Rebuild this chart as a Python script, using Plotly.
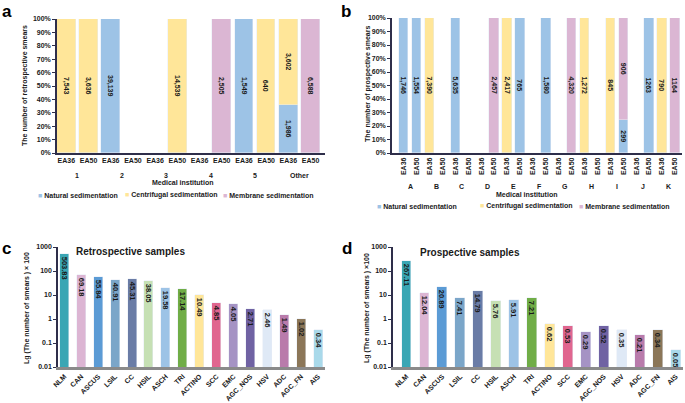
import plotly.graph_objects as go

# ---- panel a / b data (counts per slide position) ----
sub_labels = ["EA36", "EA50"]
groups_a = ["1", "2", "3", "4", "5", "Other"]
a_natural = [None, None, 39139, None, None, None, None, None, 1549, None, 1986, None]
a_centrifugal = [7543, 3636, None, None, None, 14539, None, None, None, 640, 3602, None]
a_membrane = [None, None, None, None, None, None, None, 2505, None, None, None, 6588]

groups_b = ["A", "B", "C", "D", "E", "F", "G", "H", "I", "J", "K"]
b_natural = [1746, 1554, None, None, 5635, None, None, None, None, 765, None,
             1580, None, None, None, None, None, 299, None, 1263, None, None]
b_centrifugal = [None, None, 7390, None, None, None, None, None, 2417, None, None,
                 None, None, None, 1272, None, 845, None, None, None, 790, None]
b_membrane = [None, None, None, None, None, None, None, 2457, None, None, None,
              None, None, 4320, None, None, None, 906, None, None, None, 1164]
b_no_comma = {19, 21}  # labels printed without thousands separator

# ---- panel c / d data ----
cats = ["NLM", "CAN", "ASCUS", "LSIL", "CC", "HSIL", "ASCH", "TRI", "ACTINO", "SCC",
        "EMC", "AGC_NOS", "HSV", "ADC", "AGC_FN", "AIS"]
retro = [503.83, 69.18, 55.84, 40.91, 45.31, 38.05, 19.58, 17.14, 10.49, 4.85,
         4.05, 2.71, 2.46, 1.49, 1.02, 0.34]
prosp = [267.11, 12.04, 20.89, 7.41, 14.79, 5.76, 5.91, 7.21, 0.62, 0.53,
         0.29, 0.52, 0.35, 0.21, 0.34, 0.05]
cat_colors = ["#3aa6b4", "#dcb5d3", "#5b9bd5", "#7ba6c9", "#6a7ca6", "#c6e0b4",
              "#9dc3e6", "#70ad47", "#ffe699", "#e0668f", "#a593c4", "#7062a3",
              "#dfe9f6", "#b97bab", "#8b7658", "#a9d9ea"]

series_names = ["Natural sedimentation", "Centrifugal sedimentation", "Membrane sedimentation"]
series_colors = ["#9dc3e6", "#ffe699", "#dbb6d3"]

FONT = "Liberation Sans, Arial, sans-serif"
INK = "#1a1a1a"
AXIS = "#2e2e4a"


def pct(series_list):
    totals = [sum(v or 0 for v in col) for col in zip(*series_list)]
    return [[(v / t * 100 if v else None) for v, t in zip(s, totals)] for s in series_list]


def label(v, i, plain=()):
    if v is None:
        return ""
    return str(v) if i in plain else f"{v:,}"


fig = go.Figure()

# panel a
a_series = [a_natural, a_centrifugal, a_membrane]
for s, p, name, col in zip(a_series, pct(a_series), series_names, series_colors):
    fig.add_trace(go.Bar(
        x=list(range(len(s))), y=p, name=name, marker_color=col, width=0.84,
        text=[label(v, i) for i, v in enumerate(s)], textposition="inside",
        textangle=90, insidetextanchor="middle", constraintext="none",
        textfont=dict(size=7, color=INK, family=FONT, weight="bold"),
        xaxis="x", yaxis="y", showlegend=False, hoverinfo="skip"))

# panel b
b_series = [b_natural, b_centrifugal, b_membrane]
for s, p, name, col in zip(b_series, pct(b_series), series_names, series_colors):
    fig.add_trace(go.Bar(
        x=list(range(len(s))), y=p, name=name, marker_color=col, width=0.73,
        text=[label(v, i, b_no_comma) for i, v in enumerate(s)], textposition="inside",
        textangle=90, insidetextanchor="middle", constraintext="none",
        textfont=dict(size=7, color=INK, family=FONT, weight="bold"),
        xaxis="x2", yaxis="y2", showlegend=False, hoverinfo="skip"))

# panels c, d
for vals, xa, ya in [(retro, "x3", "y3"), (prosp, "x4", "y4")]:
    fig.add_trace(go.Bar(
        x=cats, y=vals, marker_color=cat_colors, width=0.53, showlegend=False,
        text=[f"{v:.2f}" for v in vals], textposition="inside", textangle=90,
        insidetextanchor="end", constraintext="none", cliponaxis=False,
        textfont=dict(size=7.5, color=INK, family=FONT, weight="bold"),
        xaxis=xa, yaxis=ya, hoverinfo="skip"))

tickf = dict(size=7, color=INK, family=FONT, weight="bold")
pct_ticks = dict(range=[0, 100], tickvals=list(range(0, 101, 10)),
                 ticktext=[f"{v}%" for v in range(0, 101, 10)], automargin=False,
                 showline=True, linecolor=AXIS, linewidth=1.5, ticks="outside",
                 ticklen=3, tickcolor=AXIS, tickfont=tickf, showgrid=False, zeroline=False)
log_ticks = dict(type="log", range=[-2, 3], tickvals=[0.01, 0.1, 1, 10, 100, 1000],
                 ticktext=["0.01", "0.1", "1", "10", "100", "1000"], automargin=False,
                 showline=True, linecolor=AXIS, linewidth=1.5, ticks="outside",
                 ticklen=3, tickcolor=AXIS, tickfont=tickf, showgrid=False, zeroline=False)
cat_x = dict(showline=True, linecolor="#8a8a8a", linewidth=2.5, ticks="", automargin=False,
             tickangle=-45, tickfont=tickf, showgrid=False)

fig.update_layout(
    width=685, height=403, margin=dict(l=0, r=0, t=0, b=0, autoexpand=False),
    paper_bgcolor="white", plot_bgcolor="white", barmode="stack", bargap=0,
    font=dict(family=FONT, color=INK), showlegend=False,
    xaxis=dict(domain=[57 / 685, 325 / 685], range=[-0.42, 11.65], automargin=False,
               tickvals=list(range(12)), ticktext=sub_labels * 6,
               showline=True, linecolor=AXIS, linewidth=1.5, ticks="",
               tickfont=tickf, showgrid=False, zeroline=False),
    yaxis=dict(domain=[1 - 153 / 403, 1 - 19 / 403], anchor="x", **pct_ticks),
    xaxis2=dict(domain=[392 / 685, 682 / 685], range=[-0.91, 21.54], automargin=False,
                tickvals=list(range(22)), ticktext=sub_labels * 11, tickangle=-90,
                showline=True, linecolor=AXIS, linewidth=1.5, ticks="",
                tickfont=tickf, showgrid=False, zeroline=False, anchor="y2"),
    yaxis2=dict(domain=[1 - 153 / 403, 1 - 18 / 403], anchor="x2", **pct_ticks),
    xaxis3=dict(domain=[58 / 685, 325 / 685], range=[-0.38, 15.41], anchor="y3", **cat_x),
    yaxis3=dict(domain=[1 - 367 / 403, 1 - 247 / 403], anchor="x3", **log_ticks),
    xaxis4=dict(domain=[393 / 685, 683 / 685], range=[-0.74, 15.4], anchor="y4", **cat_x),
    yaxis4=dict(domain=[1 - 367 / 403, 1 - 247 / 403], anchor="x4", **log_ticks),
)

ann = []
# group labels under the EA36/EA50 pairs
for i, g in enumerate(groups_a):
    ann.append(dict(x=2 * i + 0.5, xref="x", y=1 - 175 / 403, yref="paper", text=g,
                    showarrow=False, font=tickf))
for i, g in enumerate(groups_b):
    ann.append(dict(x=2 * i + 0.5, xref="x2", y=1 - 186 / 403, yref="paper", text=g,
                    showarrow=False, font=tickf))

# legends for a and b (small square swatch + label)
legend_rows = [(36, 195, [0, 87, 185]), (375, 206, [0, 103, 202])]
for x0, y0, offsets in legend_rows:
    for name, col, dx in zip(series_names, series_colors, offsets):
        ann.append(dict(x=(x0 + dx) / 685, y=1 - y0 / 403, xanchor="left",
                        text=f"<span style='color:{col}'>■</span> {name}",
                        font=dict(size=7, family=FONT, color=INK, weight="bold")))

ann += [
    dict(x=183 / 685, y=1 - 183 / 403, text="Medical institution", font=tickf),
    dict(x=526 / 685, y=1 - 194 / 403, text="Medical institution", font=tickf),
    dict(x=25 / 685, y=1 - 86 / 403, text="The number of retrospective smears",
         textangle=-90, font=tickf),
    dict(x=368 / 685, y=1 - 84 / 403, text="The number of prospective smears",
         textangle=-90, font=tickf),
    dict(x=27 / 685, y=1 - 308 / 403, text="Lg (The number of smears ) × 100",
         textangle=-90, font=tickf),
    dict(x=367 / 685, y=1 - 308 / 403, text="Lg (The number of smears ) ×100",
         textangle=-90, font=tickf),
    dict(x=130 / 685, y=1 - 251 / 403, text="Retrospective samples",
         font=dict(size=10, family=FONT, color=INK, weight="bold")),
    dict(x=470 / 685, y=1 - 252 / 403, text="Prospective samples",
         font=dict(size=10, family=FONT, color=INK, weight="bold")),
]
for t, x, y in [("a", 0, 11), ("b", 339, 11), ("c", 0, 248), ("d", 340, 248)]:
    ann.append(dict(x=x / 685, y=1 - y / 403, xanchor="left",
                    font=dict(size=17, family=FONT, color="black", weight="bold"), text=t))
for a in ann:
    a.setdefault("xref", "paper")
    a.setdefault("yref", "paper")
    a.setdefault("xanchor", "center")
    a.setdefault("yanchor", "middle")
    a.setdefault("showarrow", False)
fig.update_layout(annotations=ann)

fig.write_html("out.html", config={"displayModeBar": False},
               post_script="document.body.style.margin='0';")
